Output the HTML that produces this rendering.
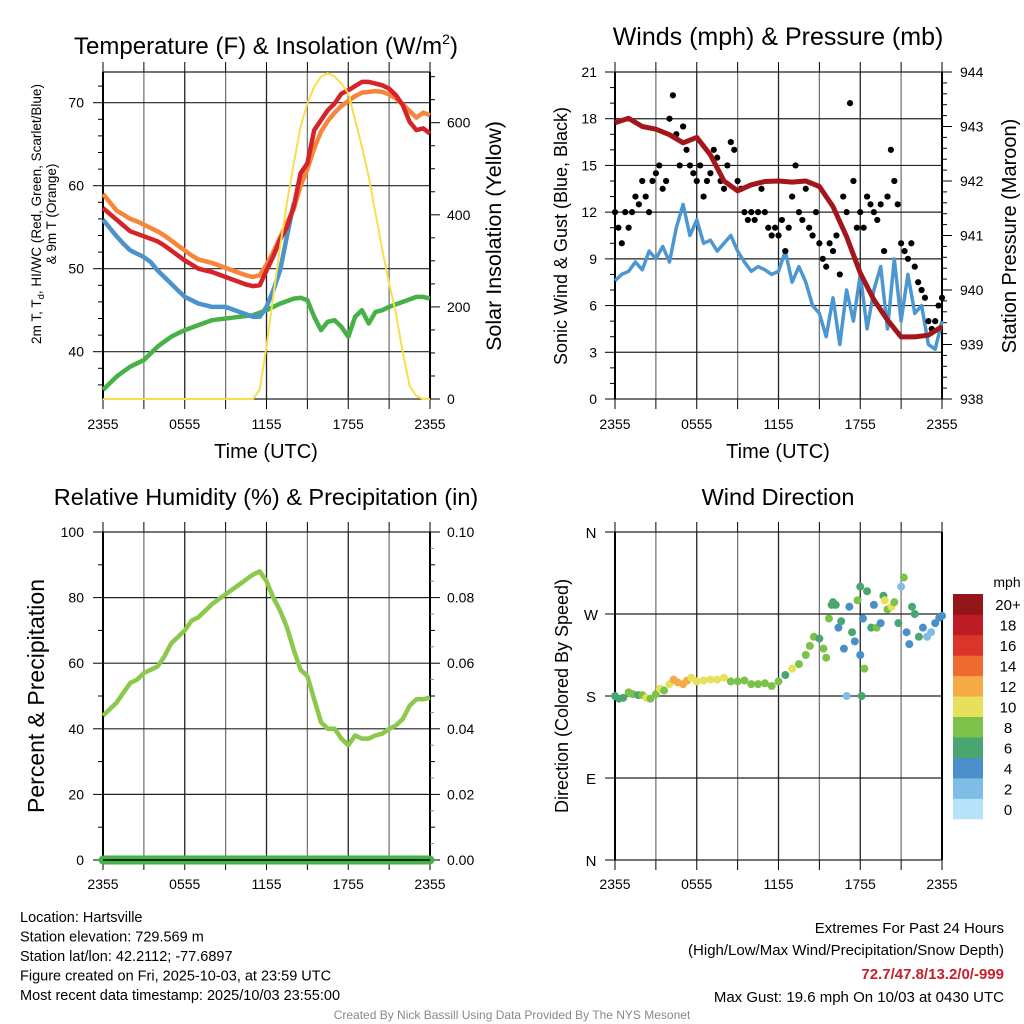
<!DOCTYPE html>
<html><head><meta charset="utf-8"><style>
html,body{margin:0;padding:0;background:#fff;}
svg{display:block;font-family:"Liberation Sans",sans-serif;}
</style></head><body>
<svg id="s" width="1024" height="1024" viewBox="0 0 1024 1024"></svg>
<script>
// ---------- data ----------
const halfHours = Array.from({length:49},(_,i)=>i*0.5);
const xTickLabels = ["2355","0555","1155","1755","2355"];
const tempRed = [57.3,56.6,55.9,55.2,54.5,54.2,53.9,53.6,53.3,52.8,52.2,51.6,51.0,50.5,50.0,49.8,49.6,49.3,49.0,48.7,48.4,48.1,47.9,48.0,49.8,51.5,53.5,55.0,57.5,61.5,62.7,66.7,67.9,69.1,69.9,71.1,71.5,72.0,72.5,72.5,72.3,72.1,71.7,70.9,69.7,67.7,66.7,66.9,66.3];
const temp9m = [59.0,58.0,57.0,56.5,56.0,55.7,55.3,54.9,54.5,54.0,53.4,52.8,52.2,51.6,51.1,50.9,50.7,50.4,50.1,49.8,49.5,49.2,49.0,49.2,50.5,52.0,53.8,55.5,57.2,60.0,62.0,64.5,66.5,67.8,68.8,69.6,70.2,70.8,71.2,71.3,71.4,71.3,71.0,70.5,69.8,69.0,68.2,68.8,68.5];
const dewBlue = [55.9,54.9,53.9,53.0,52.2,51.8,51.4,50.8,49.8,49.0,48.2,47.4,46.6,46.2,45.8,45.6,45.4,45.4,45.4,45.1,44.8,44.5,44.2,44.2,45.4,47.4,49.8,53.9,57.9];
const hiwcGreen = [35.4,36.2,37.0,37.6,38.2,38.6,39.0,39.8,40.6,41.2,41.8,42.2,42.6,42.9,43.2,43.5,43.8,43.9,44.0,44.1,44.2,44.3,44.4,44.7,45.0,45.4,45.8,46.1,46.4,46.5,46.2,44.2,42.6,43.6,43.8,43.0,41.8,44.2,45.0,43.4,44.8,45.0,45.4,45.7,46.0,46.3,46.6,46.6,46.4];
const solar = [0,0,0,0,0,0,0,0,0,0,0,0,0,0,0,0,0,0,0,0,0,0,0,20,114,223,331,425,512,591,642,678,700,708,700,685,664,606,548,483,403,324,251,186,101,29,6,0,0];
const tempTicks = [40,50,60,70];
const solarTicks = [0,200,400,600];

const windSpeed = [7.6,8,8.2,8.8,8.3,9.5,9,9.8,8.8,11,12.5,10.5,11.5,10,10.2,9.5,10,10.5,9.5,8.8,8.2,8.5,8.3,8,8.2,9.5,7.5,8.5,7.5,6,5.5,4,6.5,3.5,7,5,8,4.5,7,8.5,4.5,9,5,8,5.5,6,3.5,3.2,5];
const gust = [12,11,10,12,11,12,13,12.5,14,13,12,14,14.5,15,13.5,14,18,19.5,17,15,17.5,16,15,14.5,14,15,13,14,14.5,16,15.5,14,13.5,15,16.5,16,14,13.5,12,11.5,12,11.5,12,13.5,12,11,10.5,11,10.5,11.5,9.5,11,13,15,12,11.5,13.5,11,10.5,12,10,9,8.5,10,9.5,10.5,8,13,12,19,14,11,12,11,13,12.5,12,11.5,12.5,9.5,13,16,14,12.5,10,9.5,9,10,8.5,7.5,7,6.5,5,4.5,5,6,6.5];
const pressure = [943.07,943.15,943.0,942.95,942.85,942.7,942.8,942.48,942.0,941.82,941.93,941.99,942.0,941.98,942.0,941.9,941.53,940.98,940.31,939.82,939.45,939.14,939.14,939.17,939.33];
const windTicks = [0,3,6,9,12,15,18,21];
const presTicks = [938,939,940,941,942,943,944];

const rh = [44,46,48,51,54,55,57,58,59,62,66,68,70,73,74,76,78,79.5,81,82.5,84,85.5,87,88,85,80,76,71,64,58,56,49,42,40,40,37,35,38,37,37,38,38.5,40,41,43,47,49,49,49.5];
const precip = [0,0,0,0,0,0,0,0,0,0,0,0,0,0,0,0,0,0,0,0,0,0,0,0,0];
const rhTicks = [0,20,40,60,80,100];
const precipTicks = ["0.00","0.02","0.04","0.06","0.08","0.10"];

const dirTime = [0,0.3,0.6,1,1.3,1.7,2,2.3,2.6,3,3.3,3.6,4,4.3,4.6,5,5.3,5.6,6,6.5,7,7.5,8,8.5,9,9.5,10,10.5,11,11.5,12,12.5,13,13.5,14,14.3,14.6,15,15.3,15.5,15.7,15.9,16,16.2,16.4,16.6,16.8,17,17.2,17.4,17.6,17.8,18,18,18.1,18.2,18.3,18.5,18.8,19,19.2,19.5,19.7,19.8,20,20.3,20.5,20.8,21,21.2,21.4,21.6,21.8,22,22.3,22.6,22.9,23.2,23.5,23.8,24];
const dirDeg = [180,177,178,184,182,181,181,178,177,182,188,186,193,198,195,193,197,200,196,197,198,198,200,196,196,197,193,193,194,191,196,203,210,215,225,235,245,243,232,222,265,280,283,280,255,262,232,180,278,250,240,285,300,225,180,265,210,295,255,280,255,260,290,285,275,278,283,260,300,310,250,237,278,270,245,255,245,250,260,266,268];
const dirSpeed = [7,7,7.5,8,8,7,9,10,9,8,10,9,11,13,12,13,12,11,10,10,10,10,10,8,8,8,8,8,8,8,8,7,10,8,8,8,8,6,8,8,8,6,6,6,4,6,4,2,4,6,4,8,6,4,6,4,8,6,6,4,8,4,6,10,8,10,8,6,2,8,4,4,6,6,6,4,2,2,4,4,4];
const speedLabels = ["0","2","4","6","8","10","12","14","16","18","20+"];
const speedColors = ["#b5e3f8","#80bde6","#4a8fc7","#4aa671","#7cc14a","#e7e05a","#f6aa46","#ee6a2f","#dc3429","#bd1c25","#921619"];
const dirLabels = ["N","E","S","W","N"];

// ---------- helpers ----------
const S = document.getElementById('s');
const NS = 'http://www.w3.org/2000/svg';
function mk(tag, attrs, parent){
  const e = document.createElementNS(NS, tag);
  for (const k in attrs) e.setAttribute(k, attrs[k]);
  (parent||S).appendChild(e);
  return e;
}
function txt(x,y,s,size,anchor,extra){
  const t = mk('text', Object.assign({x:x,y:y,'font-size':size,'text-anchor':anchor||'middle',fill:'#000'}, extra||{}));
  t.textContent = s;
  return t;
}
function lin(d0,d1,r0,r1){ return v => r0 + (v-d0)/(d1-d0)*(r1-r0); }
function pathFrom(xs, ys, fx, fy){
  return xs.map((x,i)=> (i?'L':'M') + fx(x).toFixed(1) + ' ' + fy(ys[i]).toFixed(1)).join(' ');
}
function frame(L,T,R,B,name){
  const g = mk('g', {});
  
  
  return g;
}
function grid(g,L,T,R,B,fx,hy){
  for (let h=0; h<=24; h+=3){
    const x = fx(h);
    const vl = mk('line',{x1:x,y1:T,x2:x,y2:B,stroke:(h%6===0?'#222':'#777'),'stroke-width':1.3},g);
    
    
    mk('line',{x1:x,y1:T-10,x2:x,y2:T,stroke:'#000','stroke-width':1},g);
    mk('line',{x1:x,y1:B,x2:x,y2:B+10,stroke:'#000','stroke-width':1},g);
  }
  hy.forEach(y=>{
    const hl = mk('line',{x1:L,y1:y,x2:R,y2:y,stroke:'#222','stroke-width':1.2},g);
    
    
  });
  mk('line',{x1:L,y1:T,x2:L,y2:B,stroke:'#000','stroke-width':2},g);
  mk('line',{x1:R,y1:T,x2:R,y2:B,stroke:'#000','stroke-width':2},g);
}
function xLabels(g,fx,y){
  xTickLabels.forEach((s,i)=>{
    const t = txt(fx(i*6), y, s, 14, 'middle');
    
    
    g.appendChild(t);
  });
}

// ---------- Panel 1: Temperature ----------
(function(){
  const L=103,T=72,R=430,B=399;
  const g = frame(L,T,R,B,'temperature-panel');
  const fx = lin(0,24,L,R), fy = lin(40,70,351.7,102.7), fs = lin(0,600,399,122.7);
  grid(g,L,T,R,B,fx,[T,B].concat(tempTicks.map(fy)));
  for (let v=36; v<=74; v+=2){ const y=fy(v); if(y>=T&&y<=B) mk('line',{x1:L-(v%10===0?10:5),y1:y,x2:L,y2:y,stroke:'#000'},g); }
  for (let v=0; v<=750; v+=50){ const y=fs(v); if(y>=T&&y<=B) mk('line',{x1:R,y1:y,x2:R+(v%200===0?10:5),y2:y,stroke:'#000'},g); }
  tempTicks.forEach(v=>{ const t=txt(84,fy(v)+5,String(v),14,'end');   });
  solarTicks.forEach(v=>{ const t=txt(447,fs(v)+5,String(v),14,'start');   });
  const series = [
    [hiwcGreen,'#46b146','hi-wc-line'],
    [dewBlue,'#4c93cc','dewpoint-line'],
    [temp9m,'#f7853a','temp-9m-line'],
    [tempRed,'#d4242a','temp-2m-line']
  ];
  series.forEach(([arr,c,n])=>{
    const p = mk('path',{d:pathFrom(halfHours.slice(0,arr.length),arr,fx,fy),fill:'none',stroke:c,'stroke-width':4.5,'stroke-linejoin':'round'},g);
    
    
  });
  const sp = mk('path',{d:pathFrom(halfHours,solar,fx,fs),fill:'none',stroke:'#f7de4a','stroke-width':2},g);
  
  
  xLabels(g,fx,429);
  const ti=txt(266,54,'Temperature (F) & Insolation (W/m',24,'middle');
  const sup=mk('tspan',{dy:-10,'font-size':14},ti); sup.textContent='2';
  const cl=mk('tspan',{dy:10},ti); cl.textContent=')';
   
  const xl=txt(266,458,'Time (UTC)',20);  
  const yl=txt(0,0,'',13.5,'middle',{transform:'translate(41,214) rotate(-90)'});
  yl.textContent='2m T, T';
  const sub=mk('tspan',{dy:3,'font-size':9.5},yl); sub.textContent='d';
  const rest=mk('tspan',{dy:-3},yl); rest.textContent=', HI/WC (Red, Green, Scarlet/Blue)';
   
  const yl2=txt(0,0,'& 9m T (Orange)',13.5,'middle',{transform:'translate(56,214) rotate(-90)'});
   
  const yr=txt(0,0,'Solar Insolation (Yellow)',21.5,'middle',{transform:'translate(501,236) rotate(-90)'});
   
})();

// ---------- Panel 2: Winds & pressure ----------
(function(){
  const L=615,T=72,R=942,B=399;
  const g = frame(L,T,R,B,'winds-panel');
  const fx = lin(0,24,L,R), fy = lin(0,21,B,T), fp = lin(938,944,B,T);
  grid(g,L,T,R,B,fx,windTicks.map(fy));
  for (let v=0; v<=21; v+=1){ mk('line',{x1:L-(v%3===0?10:5),y1:fy(v),x2:L,y2:fy(v),stroke:'#000'},g); }
  for (let v=938; v<=944.001; v+=0.2){ mk('line',{x1:R,y1:fp(v),x2:R+(Math.abs(v-Math.round(v))<0.01?10:5),y2:fp(v),stroke:'#000'},g); }
  windTicks.forEach(v=>{ const t=txt(597,fy(v)+5,String(v),14,'end');   });
  presTicks.forEach(v=>{ const t=txt(960,fp(v)+5,String(v),14,'start');   });
  const wp = mk('path',{d:pathFrom(halfHours,windSpeed,fx,fy),fill:'none',stroke:'#4c97d2','stroke-width':3.5,'stroke-linejoin':'round'},g);
   
  gust.forEach((v,i)=>{
    const c = mk('circle',{cx:fx(i*0.25),cy:fy(v),r:3.1,fill:'#000'},g);
    
    
  });
  const hrs = pressure.map((_,i)=>i);
  const pp = mk('path',{d:pathFrom(hrs,pressure,fx,fp),fill:'none',stroke:'#a3161b','stroke-width':5,'stroke-linejoin':'round'},g);
   
  xLabels(g,fx,429);
  const ti=txt(778,45,'Winds (mph) & Pressure (mb)',25);  
  const xl=txt(778,458,'Time (UTC)',20);  
  const yl=txt(0,0,'Sonic Wind & Gust (Blue, Black)',18,'middle',{transform:'translate(567,236) rotate(-90)'});
   
  const yr=txt(0,0,'Station Pressure (Maroon)',20,'middle',{transform:'translate(1016,236) rotate(-90)'});
   
})();

// ---------- Panel 3: RH & precip ----------
(function(){
  const L=103,T=532,R=430,B=860;
  const g = frame(L,T,R,B,'humidity-panel');
  const fx = lin(0,24,L,R), fy = lin(0,100,B,T), fq = lin(0,0.1,B,T);
  grid(g,L,T,R,B,fx,rhTicks.map(fy));
  for (let v=0; v<=100; v+=10){ mk('line',{x1:L-(v%20===0?10:5),y1:fy(v),x2:L,y2:fy(v),stroke:'#000'},g); mk('line',{x1:R,y1:fy(v),x2:R+(v%20===0?10:5),y2:fy(v),stroke:'#000'},g); }
  for (let v=5; v<100; v+=10){ mk('line',{x1:R,y1:fy(v),x2:R+4,y2:fy(v),stroke:'#888'},g); }
  rhTicks.forEach(v=>{ const t=txt(84,fy(v)+5,String(v),14,'end');   });
  precipTicks.forEach((s,i)=>{ const t=txt(447,fq(i*0.02)+5,s,14,'start');   });
  const hrs = precip.map((_,i)=>i);
  const qp = mk('path',{d:pathFrom(hrs,precip,fx,fq),fill:'none',stroke:'#46b146','stroke-width':9,'stroke-linecap':'round'},g);
   
  mk('line',{x1:L,y1:B,x2:R,y2:B,stroke:'#000','stroke-width':1.5},g);
  const rp = mk('path',{d:pathFrom(halfHours,rh,fx,fy),fill:'none',stroke:'#8cc84b','stroke-width':4.5,'stroke-linejoin':'round'},g);
   
  xLabels(g,fx,889);
  const ti=txt(266,505,'Relative Humidity (%) & Precipitation (in)',23.5);  
  const yl=txt(0,0,'Percent & Precipitation',23,'middle',{transform:'translate(44,696) rotate(-90)'});
   
})();

// ---------- Panel 4: Wind direction ----------
(function(){
  const L=615,T=532,R=942,B=860;
  const g = frame(L,T,R,B,'wind-direction-panel');
  const fx = lin(0,24,L,R), fy = lin(0,360,B,T);
  grid(g,L,T,R,B,fx,[0,90,180,270,360].map(fy));
  [0,90,180,270,360].forEach((v,i)=>{
    mk('line',{x1:L-10,y1:fy(v),x2:L,y2:fy(v),stroke:'#000'},g);
    const t=txt(591,fy(v)+6,dirLabels[i],15,'middle');  
  });
  dirTime.forEach((t,i)=>{
    const bin = Math.min(10, Math.floor(dirSpeed[i]/2));
    const c = mk('circle',{cx:fx(t),cy:fy(dirDeg[i]),r:4,fill:speedColors[bin]},g);
    
    
  });
  const cb = mk('g',{},S);
  
  
  const h = (819-594)/11;
  speedColors.forEach((c,i)=>{
    const y = 819 - (i+1)*h;
    const r = mk('rect',{x:953,y:y,width:30,height:h+0.3,fill:c},cb);
    
    
    const t = txt(1008,y+h/2+6,speedLabels[i],15,'middle');  
  });
  const u=txt(1007,587,'mph',14);  
  xLabels(g,fx,889);
  const ti=txt(778,505,'Wind Direction',23.5);  
  const yl=txt(0,0,'Direction (Colored By Speed)',18,'middle',{transform:'translate(568,696) rotate(-90)'});
   
})();

// ---------- footer ----------
const leftLines = ["Location: Hartsville","Station elevation: 729.569 m","Station lat/lon: 42.2112; -77.6897","Figure created on Fri, 2025-10-03, at 23:59 UTC","Most recent data timestamp: 2025/10/03 23:55:00"];
leftLines.forEach((s,i)=>{ const t=txt(20,922+i*19.5,s,14.5,'start');   });
const r1=txt(1004,933,'Extremes For Past 24 Hours',15,'end');  
const r2=txt(1004,955,'(High/Low/Max Wind/Precipitation/Snow Depth)',15,'end');  
const r3=txt(1004,979,'72.7/47.8/13.2/0/-999',15,'end',{fill:'#c8202a','font-weight':'bold'});  
const r4=txt(1004,1002,'Max Gust: 19.6 mph On 10/03 at 0430 UTC',15,'end');  
const cr=txt(512,1019,'Created By Nick Bassill Using Data Provided By The NYS Mesonet',12,'middle',{fill:'#888'});  
</script>
</body></html>
